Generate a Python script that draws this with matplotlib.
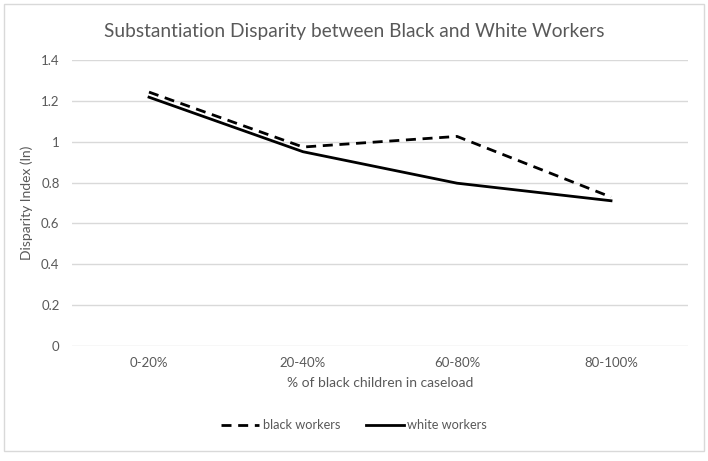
import matplotlib.pyplot as plt
from matplotlib.patches import Rectangle

# Data
categories = ['0-20%', '20-40%', '60-80%', '80-100%']
black_workers = [1.243, 0.974, 1.026, 0.729]
white_workers = [1.218, 0.951, 0.797, 0.711]
y_ticks = [0, 0.2, 0.4, 0.6, 0.8, 1, 1.2, 1.4]
y_tick_labels = ['0', '0.2', '0.4', '0.6', '0.8', '1', '1.2', '1.4']

plt.rcParams['font.family'] = ['Lato', 'DejaVu Sans']
text_gray = '#595959'

fig = plt.figure(figsize=(7.08, 4.61), dpi=100)
ax = fig.add_axes([0.1017, 0.2495, 0.8701, 0.6203])

x = range(len(categories))
ax.plot(x, black_workers, color='black', lw=2.0, linestyle=(0, (3.6, 2.4)),
        label='black workers')
ax.plot(x, white_workers, color='black', lw=2.0, label='white workers')

ax.set_xlim(-0.5, len(categories) - 0.5)
ax.set_ylim(0, 1.4)
ax.set_yticks(y_ticks)
ax.set_yticklabels(y_tick_labels)
ax.set_xticks(list(x))
ax.set_xticklabels(categories)
ax.grid(axis='y', color='#d9d9d9', lw=1)
ax.set_axisbelow(True)
for s in ax.spines.values():
    s.set_visible(False)
ax.tick_params(length=0, colors=text_gray, labelsize=9.5)
ax.tick_params(axis='y', pad=9)
ax.tick_params(axis='x', pad=8)

ax.set_ylabel('Disparity Index (ln)', color=text_gray, fontsize=10, labelpad=6)
ax.set_xlabel('% of black children in caseload', color=text_gray, fontsize=10,
              labelpad=6)
fig.text(0.5, 0.932, 'Substantiation Disparity between Black and White Workers',
         ha='center', va='center', fontsize=13.8, color=text_gray)

leg = fig.legend(loc='center', bbox_to_anchor=(0.5, 0.078), ncol=2, frameon=False,
                 fontsize=9.2, handlelength=3.0, handletextpad=0.25,
                 columnspacing=2.0)
for t in leg.get_texts():
    t.set_color(text_gray)

# light chart border
fig.add_artist(Rectangle((0.006, 0.022), 0.988, 0.97, transform=fig.transFigure,
                         fill=False, edgecolor='#d9d9d9', lw=1))

fig.savefig('out.png', dpi=100)
